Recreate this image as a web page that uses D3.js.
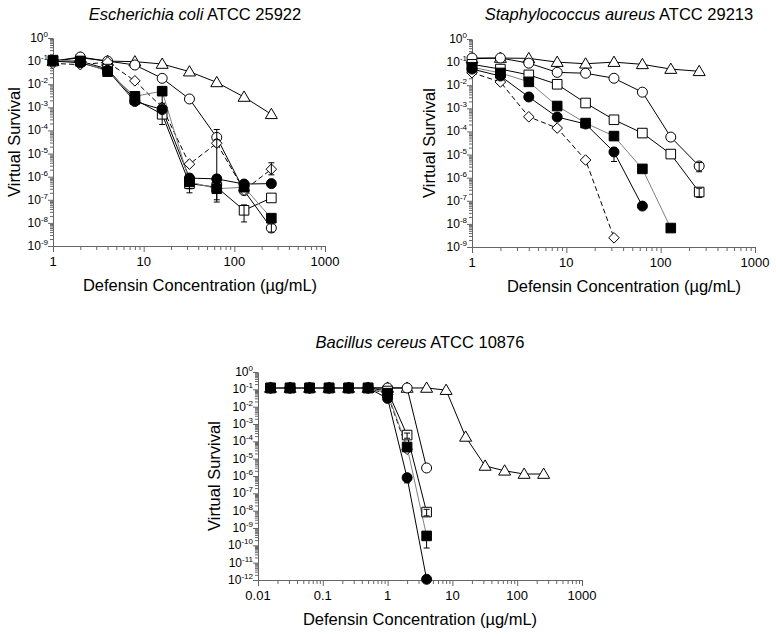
<!DOCTYPE html>
<html><head><meta charset="utf-8">
<script src="https://cdn.jsdelivr.net/npm/d3@7"></script>
<style>body{margin:0;background:#fff} text{font-family:"Liberation Sans",Arial,sans-serif;fill:#000}</style>
</head><body><svg id="c" width="776" height="636"></svg>
<script>
// ---------- DATA ----------
const ecoliConc = [1, 2, 4, 8, 16, 32, 64, 128, 256];
const ecoliTriangle     = [0.1, 0.14, 0.1, 0.095, 0.075, 0.035, 0.012, 0.0028, 0.0005];
const ecoliOpenCircle   = [0.1, 0.15, 0.1, 0.068, 0.018, 0.0023, 5e-5, 2.5e-7, 6e-9];
const ecoliDiamond      = [0.08, 0.07, 0.09, 0.014, 0.001, 3.5e-6, 2.8e-5, 2.6e-7, 2.1e-6];
const ecoliOpenSquare   = [0.1, 0.1, 0.045, 0.0022, 0.0005, 5e-7, 3.5e-7, 3.5e-8, 1.2e-7];
const ecoliFilledCircle = [0.1, 0.085, 0.04, 0.0018, 0.0008, 8.7e-7, 8e-7, 4.8e-7, 5e-7];
const ecoliFilledSquare = [0.11, 0.1, 0.035, 0.003, 0.005, 6e-7, 3e-7, 3.5e-7, 1.6e-8];
// error bars [concentration, low, high]
const ecoliOpenCircleErr   = [[64, 2e-5, 1.1e-4], [256, 4e-9, 9e-9]];
const ecoliDiamondErr      = [[64, 1.2e-6, 4e-5], [256, 1.2e-6, 4e-6]];
const ecoliOpenSquareErr   = [[16, 1.8e-4, 8e-4], [32, 2e-7, 7e-7], [64, 8e-8, 5e-7], [128, 1.1e-8, 6e-8]];
const ecoliFilledSquareErr = [[16, 1.5e-3, 8e-3], [32, 3e-7, 8e-7], [64, 1e-7, 5e-7]];

const saureusConc = [1, 2, 4, 8, 16, 32, 64, 128, 256];
const saureusTriangle     = [0.14, 0.15, 0.145, 0.1, 0.085, 0.1, 0.08, 0.05, 0.04];
const saureusOpenCircle   = [0.15, 0.15, 0.09, 0.036, 0.033, 0.02, 0.005, 5.7e-5, 3.2e-6];
const saureusDiamond      = [0.035, 0.0138, 4.3e-4, 1.4e-4, 5.8e-6, 2.5e-9, null, null, null];
const saureusOpenSquare   = [0.08, 0.05, 0.028, 0.011, 0.0017, 3.2e-4, 8.5e-5, 1.05e-5, 2.4e-7];
const saureusFilledCircle = [0.05, 0.025, 0.0031, 4.2e-4, 2.1e-4, 1.3e-5, 5.9e-8, null, null];
const saureusFilledSquare = [0.06, 0.034, 0.014, 0.00126, 2.3e-4, 6.3e-5, 2.4e-6, 6.6e-9, null];
const saureusOpenCircleErr   = [[256, 1.8e-6, 4.5e-6]];
const saureusOpenSquareErr   = [[256, 1.4e-7, 3.5e-7]];
const saureusFilledCircleErr = [[32, 5e-6, 2e-5]];

const bcereusConc = [0.015625, 0.03125, 0.0625, 0.125, 0.25, 0.5, 1, 2, 4, 8, 16, 32, 64, 128, 256];
const bcereusTriangle     = [0.12, 0.12, 0.12, 0.12, 0.12, 0.12, 0.12, 0.12, 0.12, 0.09, 1.8e-4, 3.8e-6, 2e-6, 1.3e-6, 1.3e-6];
const bcereusOpenCircle   = [0.12, 0.12, 0.12, 0.12, 0.12, 0.12, 0.12, 0.12, 2.9e-6, null, null, null, null, null, null];
const bcereusDiamond      = [0.12, 0.12, 0.12, 0.12, 0.12, 0.12, 0.05, 3.5e-5, null, null, null, null, null, null, null];
const bcereusOpenSquare   = [0.12, 0.12, 0.12, 0.12, 0.12, 0.12, 0.08, 2.3e-4, 8.3e-9, null, null, null, null, null, null];
const bcereusFilledCircle = [0.12, 0.12, 0.12, 0.12, 0.12, 0.12, 0.03, 8e-7, 1.1e-12, null, null, null, null, null, null];
const bcereusFilledSquare = [0.12, 0.12, 0.12, 0.12, 0.12, 0.12, 0.06, 4.7e-5, 3.5e-10, null, null, null, null, null, null];
const bcereusOpenSquareErr   = [[2, 1.5e-4, 3e-4], [4, 5e-9, 1.2e-8]];
const bcereusFilledSquareErr = [[2, 2.5e-5, 6e-5], [4, 7e-11, 6e-10]];
const bcereusFilledCircleErr = [[2, 4e-7, 1.2e-6]];

const xTickLabelsTop = [1, 10, 100, 1000];
const xTickLabelsBottom = [0.01, 0.1, 1, 10, 100, 1000];

// ---------- DRAWING ----------
const svg = d3.select("#c");
const AX = "#666";

function markerPath(type) {
  const p = d3.path();
  if (type === "triangle") { p.moveTo(0, -6); p.lineTo(6, 4.3); p.lineTo(-6, 4.3); p.closePath(); }
  else if (type === "circle") { p.arc(0, 0, 5, 0, 2 * Math.PI); }
  else if (type === "square") { p.rect(-4.8, -4.8, 9.6, 9.6); }
  else if (type === "diamond") { p.moveTo(0, -5.3); p.lineTo(5.3, 0); p.lineTo(0, 5.3); p.lineTo(-5.3, 0); p.closePath(); }
  return p.toString();
}

function drawPanel(cfg) {
  const x = d3.scaleLog().domain(cfg.xDomain).range([cfg.left, cfg.right]);
  const y = d3.scaleLog().domain([1, cfg.yMin]).range([cfg.top, cfg.bottom]);
  const g = svg.append("g");

  // y axis
  const e0 = Math.round(Math.log10(cfg.yMin));
  const yMajor = d3.range(0, e0 - 1, -1).map(e => Math.pow(10, e));
  const yMinor = [];
  for (let e = e0; e < 0; e++) for (let m = 2; m <= 9; m++) yMinor.push(m * Math.pow(10, e));
  g.append("g").attr("transform", `translate(${cfg.left},0)`)
    .call(d3.axisLeft(y).tickValues(yMinor).tickSize(3).tickFormat(""))
    .call(s => s.select(".domain").remove())
    .call(s => s.selectAll("line").attr("stroke", AX));
  g.append("g").attr("transform", `translate(${cfg.left},0)`)
    .call(d3.axisLeft(y).tickValues(yMajor).tickSize(5).tickFormat("").tickSizeOuter(0))
    .call(s => s.select(".domain").attr("stroke", AX))
    .call(s => s.selectAll("line").attr("stroke", AX));
  yMajor.forEach(v => {
    const t = g.append("text").attr("x", cfg.left - 5).attr("y", y(v) + 4)
      .attr("text-anchor", "end").attr("font-size", 12);
    t.append("tspan").text("10");
    t.append("tspan").attr("dy", -5).attr("font-size", 8).text(Math.round(Math.log10(v)));
  });

  // x axis
  const xe0 = Math.round(Math.log10(cfg.xDomain[0])), xe1 = Math.round(Math.log10(cfg.xDomain[1]));
  const xMajor = d3.range(xe0, xe1 + 1).map(e => Math.pow(10, e));
  const xMinor = [];
  for (let e = xe0; e < xe1; e++) for (let m = 2; m <= 9; m++) xMinor.push(m * Math.pow(10, e));
  g.append("g").attr("transform", `translate(0,${cfg.bottom})`)
    .call(d3.axisBottom(x).tickValues(xMinor).tickSize(4).tickFormat(""))
    .call(s => s.select(".domain").remove())
    .call(s => s.selectAll("line").attr("stroke", AX));
  g.append("g").attr("transform", `translate(0,${cfg.bottom})`)
    .call(d3.axisBottom(x).tickValues(xMajor).tickSize(6).tickSizeOuter(0).tickFormat(""))
    .call(s => s.select(".domain").attr("stroke", AX))
    .call(s => s.selectAll("line").attr("stroke", AX));
  cfg.xLabels.forEach(v => {
    g.append("text").attr("x", x(v)).attr("y", cfg.bottom + 20).attr("text-anchor", "middle")
      .attr("font-size", 13).text(v);
  });

  // titles
  const tt = g.append("text").attr("x", cfg.titleX).attr("y", cfg.titleY).attr("text-anchor", "middle").attr("font-size", 16.5);
  tt.append("tspan").attr("font-style", "italic").text(cfg.italic);
  tt.append("tspan").text(" " + cfg.strain);
  g.append("text").attr("x", cfg.xLabelX).attr("y", cfg.bottom + 45).attr("text-anchor", "middle")
    .attr("font-size", 16.5).text("Defensin Concentration (\u00b5g/mL)");
  g.append("text").attr("transform", `translate(${cfg.yLabelX},${(cfg.top + cfg.bottom) / 2}) rotate(-90)`)
    .attr("text-anchor", "middle").attr("font-size", 16.5).text("Virtual Survival");

  // series
  const line = d3.line().defined(d => d.v != null).x(d => x(d.c)).y(d => y(d.v));
  cfg.series.forEach(s => {
    const pts = cfg.conc.map((c, i) => ({ c, v: s.values[i] }));
    g.append("path").datum(pts).attr("d", line).attr("fill", "none")
      .attr("stroke", s.stroke).attr("stroke-width", s.sw || 1)
      .attr("stroke-dasharray", s.dash || null);
  });
  cfg.series.forEach(s => {
    const pts = cfg.conc.map((c, i) => ({ c, v: s.values[i] })).filter(d => d.v != null);
    g.selectAll(null).data(pts).enter().append("path")
      .attr("transform", d => `translate(${x(d.c)},${y(d.v)})`)
      .attr("d", markerPath(s.shape))
      .attr("fill", s.filled ? "#000" : "#fff").attr("stroke", "#000").attr("stroke-width", 1);
    (s.err || []).forEach(([c, lo, hi]) => {
      const xx = x(c);
      g.append("line").attr("x1", xx).attr("x2", xx).attr("y1", y(lo)).attr("y2", y(hi)).attr("stroke", "#000");
      [lo, hi].forEach(v => g.append("line").attr("x1", xx - 3).attr("x2", xx + 3).attr("y1", y(v)).attr("y2", y(v)).attr("stroke", "#000"));
    });
  });
}

function mkSeries(tri, oc, dia, os, fc, fs, errs) {
  errs = errs || {};
  return [
    { values: tri, shape: "triangle", filled: false, stroke: "#000" },
    { values: oc, shape: "circle", filled: false, stroke: "#000", err: errs.oc },
    { values: dia, shape: "diamond", filled: false, stroke: "#000", dash: "5,3", err: errs.dia },
    { values: os, shape: "square", filled: false, stroke: "#000", err: errs.os },
    { values: fc, shape: "circle", filled: true, stroke: "#000", err: errs.fc },
    { values: fs, shape: "square", filled: true, stroke: "#808080", err: errs.fs }
  ];
}

drawPanel({
  left: 53, right: 325, top: 38, bottom: 246, xDomain: [1, 1000], yMin: 1e-9,
  xLabels: xTickLabelsTop, titleX: 195, titleY: 20, xLabelX: 200, yLabelX: 20,
  italic: "Escherichia coli", strain: "ATCC 25922", conc: ecoliConc,
  series: mkSeries(ecoliTriangle, ecoliOpenCircle, ecoliDiamond, ecoliOpenSquare, ecoliFilledCircle, ecoliFilledSquare,
    { oc: ecoliOpenCircleErr, dia: ecoliDiamondErr, os: ecoliOpenSquareErr, fs: ecoliFilledSquareErr })
});
drawPanel({
  left: 472, right: 755, top: 39, bottom: 247, xDomain: [1, 1000], yMin: 1e-9,
  xLabels: xTickLabelsTop, titleX: 619, titleY: 20, xLabelX: 624, yLabelX: 435,
  italic: "Staphylococcus aureus", strain: "ATCC 29213", conc: saureusConc,
  series: mkSeries(saureusTriangle, saureusOpenCircle, saureusDiamond, saureusOpenSquare, saureusFilledCircle, saureusFilledSquare,
    { oc: saureusOpenCircleErr, os: saureusOpenSquareErr, fc: saureusFilledCircleErr })
});
drawPanel({
  left: 258, right: 582, top: 372, bottom: 580, xDomain: [0.01, 1000], yMin: 1e-12,
  xLabels: xTickLabelsBottom, titleX: 420, titleY: 348, xLabelX: 420, yLabelX: 220,
  italic: "Bacillus cereus", strain: "ATCC 10876", conc: bcereusConc,
  series: mkSeries(bcereusTriangle, bcereusOpenCircle, bcereusDiamond, bcereusOpenSquare, bcereusFilledCircle, bcereusFilledSquare,
    { os: bcereusOpenSquareErr, fs: bcereusFilledSquareErr, fc: bcereusFilledCircleErr })
});
</script></body></html>
